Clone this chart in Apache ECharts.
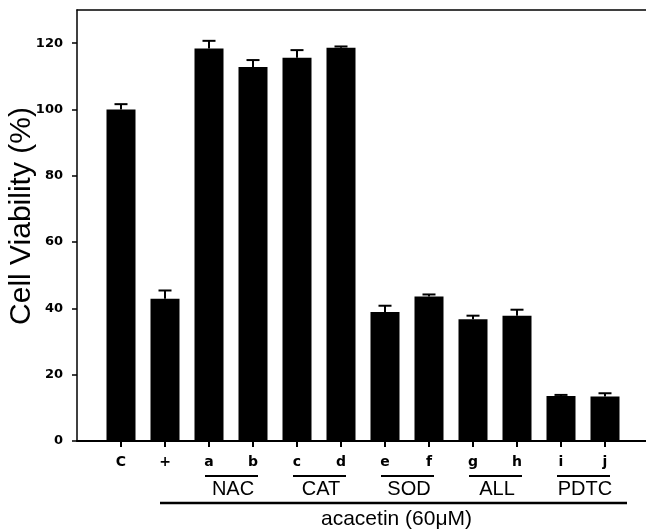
<!DOCTYPE html>
<html>
<head>
<meta charset="utf-8">
<script src="https://cdn.jsdelivr.net/npm/echarts@6/dist/echarts.min.js"></script>
<style>html,body{margin:0;padding:0;background:#fff;}#c{width:646px;height:529px;}</style>
</head>
<body>
<div id="c"></div>
<script>
const categories = ['C', '+', 'a', 'b', 'c', 'd', 'e', 'f', 'g', 'h', 'i', 'j'];
const values = [100, 42.9, 118.4, 112.8, 115.6, 118.6, 38.9, 43.6, 36.7, 37.8, 13.6, 13.4];
const errors = [1.6, 2.5, 2.3, 2.1, 2.3, 0.4, 1.9, 0.6, 1.1, 1.8, 0.3, 1.0];
const groups = [
  { name: 'NAC', from: 'a', to: 'b' },
  { name: 'CAT', from: 'c', to: 'd' },
  { name: 'SOD', from: 'e', to: 'f' },
  { name: 'ALL', from: 'g', to: 'h' },
  { name: 'PDTC', from: 'i', to: 'j' }
];
const treatmentLabel = 'acacetin (60\u03bcM)';
const yTitle = 'Cell Viability (%)';
const yTicks = { min: 0, max: 130, interval: 20 };

const chart = echarts.init(document.getElementById('c'), null, { renderer: 'canvas' });

const barData = categories.map((c, i) => [i + 1, values[i]]);
const errData = categories.map((c, i) => [i + 1, values[i], errors[i]]);

const option = {
  animation: false,
  backgroundColor: '#fff',
  grid: { left: 77, top: 10, width: 572, height: 431, containLabel: false, outerBoundsMode: 'none' },
  xAxis: [
    {
      type: 'value', min: 0, max: categories.length + 1, interval: 1,
      axisLine: { show: true, lineStyle: { color: '#000', width: 2 } },
      axisTick: { show: false },
      axisLabel: {
        margin: 14, color: '#000', fontFamily: 'DejaVu Sans', fontWeight: 'bold', fontSize: 14,
        hideOverlap: false,
        formatter: v => categories[v - 1] || ''
      },
      splitLine: { show: false }
    },
    {
      type: 'value', position: 'top', min: 0, max: categories.length + 1,
      axisLine: { show: true, lineStyle: { color: '#000', width: 1.5 } },
      axisTick: { show: false }, axisLabel: { show: false }, splitLine: { show: false }
    }
  ],
  yAxis: {
    type: 'value', min: yTicks.min, max: yTicks.max, interval: yTicks.interval,
    axisLine: { show: true, lineStyle: { color: '#000', width: 1.5 } },
    axisTick: { show: true, length: 5, inside: false, lineStyle: { color: '#000', width: 1.5 } },
    axisLabel: {
      margin: 14, color: '#000', fontFamily: 'DejaVu Sans', fontWeight: 'bold', fontSize: 13,
      showMaxLabel: false,
      formatter: v => (v % yTicks.interval === 0 ? String(v) : '')
    },
    splitLine: { show: false }
  },
  series: [
    {
      type: 'bar', data: barData, barWidth: 29,
      itemStyle: { color: '#000' }, z: 2
    },
    {
      type: 'custom', data: errData, z: 3,
      encode: { x: 0, y: 1 },
      renderItem: function (params, api) {
        const x = api.value(0), v = api.value(1), e = api.value(2);
        const base = api.coord([x, v]);
        const top = api.coord([x, v + e]);
        const style = { stroke: '#000', lineWidth: 2 };
        return {
          type: 'group',
          children: [
            { type: 'line', shape: { x1: base[0], y1: base[1], x2: top[0], y2: top[1] }, style: style },
            { type: 'line', shape: { x1: top[0] - 6.5, y1: top[1], x2: top[0] + 6.5, y2: top[1] }, style: style }
          ]
        };
      }
    }
  ]
};
chart.setOption(option);

const px = idx => chart.convertToPixel({ xAxisIndex: 0 }, idx);
const posOf = name => categories.indexOf(name) + 1;
const graphics = [];
const font = 'Liberation Sans, Arial, sans-serif';
const y0 = 441;
categories.forEach((c, i) => {
  const x = Math.round(px(i + 1));
  graphics.push({ type: 'rect', z: 10, shape: { x: x - 1, y: y0, width: 2, height: 6 }, style: { fill: '#000' } });
});
groups.forEach(g => {
  const x1 = px(posOf(g.from)) - 4;
  const x2 = px(posOf(g.to)) + 5;
  graphics.push({ type: 'line', shape: { x1: x1, y1: 476, x2: x2, y2: 476 }, style: { stroke: '#000', lineWidth: 2 } });
  graphics.push({
    type: 'text', x: (x1 + x2) / 2 + 1.5, y: 489,
    style: { text: g.name, fontSize: 20, fontFamily: font, fill: '#000', align: 'center', verticalAlign: 'middle' }
  });
});
const lx1 = px(posOf('+')) - 5;
const lx2 = px(posOf('j')) + 22;
graphics.push({ type: 'line', shape: { x1: lx1, y1: 503, x2: lx2, y2: 503 }, style: { stroke: '#000', lineWidth: 2.5 } });
graphics.push({
  type: 'text', x: (lx1 + lx2) / 2 + 3, y: 519,
  style: { text: treatmentLabel, fontSize: 21, fontFamily: font, fill: '#000', align: 'center', verticalAlign: 'middle' }
});
graphics.push({
  type: 'text', x: 22, y: 216, rotation: Math.PI / 2,
  style: { text: yTitle, fontSize: 30, fontFamily: font, fill: '#000', align: 'center', verticalAlign: 'middle' }
});
chart.setOption({ graphic: graphics });
</script>
</body>
</html>
